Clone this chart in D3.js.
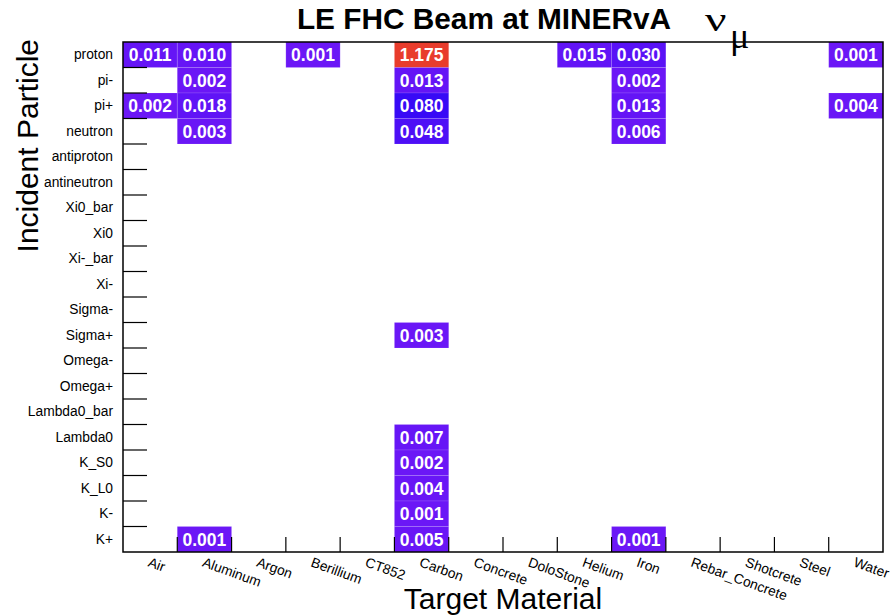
<!DOCTYPE html>
<html>
<head>
<meta charset="utf-8">
<script src="https://cdn.jsdelivr.net/npm/d3@7"></script>
<style>
  html, body { margin: 0; padding: 0; background: #fff; }
  svg { display: block; }
</style>
</head>
<body>
<div id="chart"></div>
<script>
// ---- Data ----
const materials = ["Air", "Aluminum", "Argon", "Berillium", "CT852", "Carbon", "Concrete",
  "DoloStone", "Helium", "Iron", "Rebar_Concrete", "Shotcrete", "Steel", "Water"];
const particles = ["proton", "pi-", "pi+", "neutron", "antiproton", "antineutron", "Xi0_bar",
  "Xi0", "Xi-_bar", "Xi-", "Sigma-", "Sigma+", "Omega-", "Omega+", "Lambda0_bar", "Lambda0",
  "K_S0", "K_L0", "K-", "K+"];

// values per material, in the order of `particles` (0 = empty cell)
const air           = [0.011, 0, 0.002, 0, 0, 0, 0, 0, 0, 0, 0, 0, 0, 0, 0, 0, 0, 0, 0, 0];
const aluminum      = [0.010, 0.002, 0.018, 0.003, 0, 0, 0, 0, 0, 0, 0, 0, 0, 0, 0, 0, 0, 0, 0, 0.001];
const argon         = [0, 0, 0, 0, 0, 0, 0, 0, 0, 0, 0, 0, 0, 0, 0, 0, 0, 0, 0, 0];
const berillium     = [0.001, 0, 0, 0, 0, 0, 0, 0, 0, 0, 0, 0, 0, 0, 0, 0, 0, 0, 0, 0];
const ct852         = [0, 0, 0, 0, 0, 0, 0, 0, 0, 0, 0, 0, 0, 0, 0, 0, 0, 0, 0, 0];
const carbon        = [1.175, 0.013, 0.080, 0.048, 0, 0, 0, 0, 0, 0, 0, 0.003, 0, 0, 0, 0.007, 0.002, 0.004, 0.001, 0.005];
const concrete      = [0, 0, 0, 0, 0, 0, 0, 0, 0, 0, 0, 0, 0, 0, 0, 0, 0, 0, 0, 0];
const doloStone     = [0, 0, 0, 0, 0, 0, 0, 0, 0, 0, 0, 0, 0, 0, 0, 0, 0, 0, 0, 0];
const helium        = [0.015, 0, 0, 0, 0, 0, 0, 0, 0, 0, 0, 0, 0, 0, 0, 0, 0, 0, 0, 0];
const iron          = [0.030, 0.002, 0.013, 0.006, 0, 0, 0, 0, 0, 0, 0, 0, 0, 0, 0, 0, 0, 0, 0, 0.001];
const rebarConcrete = [0, 0, 0, 0, 0, 0, 0, 0, 0, 0, 0, 0, 0, 0, 0, 0, 0, 0, 0, 0];
const shotcrete     = [0, 0, 0, 0, 0, 0, 0, 0, 0, 0, 0, 0, 0, 0, 0, 0, 0, 0, 0, 0];
const steel         = [0, 0, 0, 0, 0, 0, 0, 0, 0, 0, 0, 0, 0, 0, 0, 0, 0, 0, 0, 0];
const water         = [0.001, 0, 0.004, 0, 0, 0, 0, 0, 0, 0, 0, 0, 0, 0, 0, 0, 0, 0, 0, 0];

const valuesByMaterial = [air, aluminum, argon, berillium, ct852, carbon, concrete, doloStone,
  helium, iron, rebarConcrete, shotcrete, steel, water];

const title = "LE FHC Beam at MINERvA";
const xTitle = "Target Material";
const yTitle = "Incident Particle";

// ---- Layout ----
const W = 891, H = 615;
const plot = { left: 123, right: 883, top: 42, bottom: 552 };

const svg = d3.select("#chart").append("svg")
  .attr("width", W).attr("height", H)
  .style("font-family", "'Liberation Sans', Arial, Helvetica, sans-serif");

const x = d3.scaleBand().domain(materials).range([plot.left, plot.right]).padding(0);
const y = d3.scaleBand().domain(particles).range([plot.top, plot.bottom]).padding(0);

const maxV = d3.max(valuesByMaterial.flat());
const color = d3.scaleLinear()
  .domain([0, 0.09, 0.3, 0.55, 0.8, 1.0, maxV])
  .range(["#6c17f6", "#3208f6", "#00b8f0", "#20d840", "#e8e020", "#f09030", "#e83c2c"])
  .interpolate(d3.interpolateRgb)
  .clamp(true);

// cells
const cells = [];
materials.forEach((m, i) => {
  particles.forEach((p, j) => {
    const v = valuesByMaterial[i][j];
    if (v > 0) cells.push({ m, p, v });
  });
});

const g = svg.append("g");
g.selectAll("rect.cell").data(cells).join("rect")
  .attr("class", "cell")
  .attr("x", d => x(d.m))
  .attr("y", d => y(d.p))
  .attr("width", x.bandwidth())
  .attr("height", y.bandwidth())
  .attr("fill", d => color(d.v))
  .attr("stroke", "rgba(255,255,255,0.12)")
  .attr("stroke-width", 1);

g.selectAll("text.val").data(cells).join("text")
  .attr("class", "val")
  .attr("x", d => x(d.m) + x.bandwidth() / 2)
  .attr("y", d => y(d.p) + y.bandwidth() / 2)
  .attr("dy", "0.36em")
  .attr("text-anchor", "middle")
  .attr("fill", "#fff")
  .attr("font-weight", "bold")
  .attr("font-size", "17.5px")
  .text(d => d.v.toFixed(3));

// ticks at band boundaries
const xEdges = materials.map(m => x(m)).slice(1);
const yEdges = particles.map(p => y(p)).slice(1);

svg.append("g").selectAll("line").data(yEdges).join("line")
  .attr("x1", plot.left).attr("x2", plot.left + 24)
  .attr("y1", d => d).attr("y2", d => d)
  .attr("stroke", "#000").attr("stroke-width", 1.2);

svg.append("g").selectAll("line").data(xEdges).join("line")
  .attr("x1", d => d).attr("x2", d => d)
  .attr("y1", plot.bottom).attr("y2", plot.bottom - 15)
  .attr("stroke", "#000").attr("stroke-width", 1.2);

// frame
svg.append("rect")
  .attr("x", plot.left).attr("y", plot.top)
  .attr("width", plot.right - plot.left).attr("height", plot.bottom - plot.top)
  .attr("fill", "none").attr("stroke", "#000").attr("stroke-width", 1.5);

// y labels
svg.append("g").selectAll("text").data(particles).join("text")
  .attr("x", plot.left - 10)
  .attr("y", d => y(d) + y.bandwidth() / 2 + 4.5)
  .attr("text-anchor", "end")
  .attr("font-size", "13.8px")
  .attr("fill", "#000")
  .text(d => d);

// x labels (rotated)
svg.append("g").selectAll("text").data(materials).join("text")
  .attr("transform", d => `translate(${x(d) + x.bandwidth() / 2 - 3},${plot.bottom + 14}) rotate(20)`)
  .attr("text-anchor", "start")
  .attr("font-size", "13.8px")
  .attr("fill", "#000")
  .text(d => d);

// titles
svg.append("text")
  .attr("x", 484).attr("y", 29)
  .attr("text-anchor", "middle")
  .attr("font-weight", "bold")
  .attr("font-size", "29.8px")
  .text(title);

svg.append("text")
  .attr("transform", "translate(705,30.5) scale(1.4,1)")
  .attr("font-family", "'Liberation Serif', 'Times New Roman', serif")
  .attr("font-size", "34px")
  .text("ν");
svg.append("text")
  .attr("x", 730).attr("y", 48)
  .attr("font-family", "'Liberation Serif', 'Times New Roman', serif")
  .attr("font-size", "36px")
  .text("μ");

svg.append("text")
  .attr("x", (plot.left + plot.right) / 2).attr("y", 609)
  .attr("text-anchor", "middle")
  .attr("font-size", "30px")
  .text(xTitle);

svg.append("text")
  .attr("transform", `translate(38,39) rotate(-90)`)
  .attr("text-anchor", "end")
  .attr("font-size", "30px")
  .text(yTitle);
</script>
</body>
</html>
